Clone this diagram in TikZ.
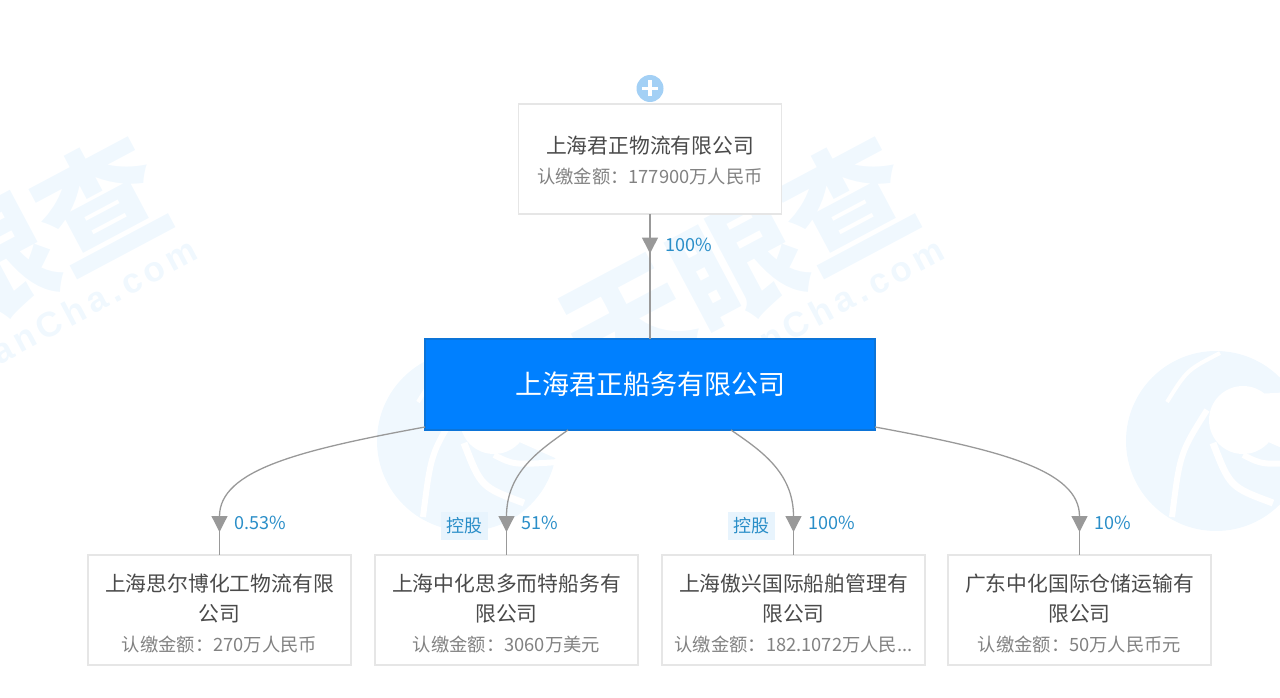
\documentclass[tikz,border=0pt]{standalone}
\usepackage{fontspec}
\usepackage{xcolor}
\usepackage{tikz}
\setmainfont{Noto Sans CJK SC}
\newfontfamily\markfont[LetterSpace=14]{Liberation Sans}
\usetikzlibrary{positioning,arrows.meta}
\tikzset{>={Triangle[width=16pt,length=16pt]}}
\definecolor{boxline}{HTML}{E6E6E6}
\definecolor{nameink}{HTML}{4A4A4A}
\definecolor{subink}{HTML}{828282}
\definecolor{rateink}{HTML}{2A8EC8}
\definecolor{linkgray}{HTML}{999999}
\definecolor{mainblue}{HTML}{0080FF}
\definecolor{mainline}{HTML}{0C74D8}
\definecolor{tagfill}{HTML}{E8F4FD}
\definecolor{plusblue}{HTML}{A3D0F5}
\definecolor{markblue}{HTML}{F0F8FE}
\newcommand{\subline}[1]{{\fontsize{18.3}{30}\selectfont\color{subink}认缴金额\char"FF1A\relax #1}}

\begin{document}
\begin{tikzpicture}[x=1pt,y=-1pt,
companynode/.style={rectangle, align=center, draw=boxline, line width=1.5pt, fill=white, text=nameink, outer sep=0pt, inner sep=0pt, minimum width=263pt, minimum height=110pt, font=\fontsize{20.8}{30}\selectfont},
mainnode/.style={rectangle, align=center, draw=mainline, line width=2pt, fill=mainblue, text=white, outer sep=0pt, minimum width=450pt, minimum height=91pt, font=\fontsize{27}{32}\selectfont},
ratelabel/.style={text=rateink, inner sep=0pt, font=\fontsize{18}{20}\selectfont},
taglabel/.style={text=rateink, fill=tagfill, inner sep=0pt, minimum width=47pt, minimum height=28pt, font=\fontsize{18}{20}\selectfont},
marktext/.style={text=markblue, inner sep=0pt, rotate=28},
link/.style={draw=linkgray, line width=1.3pt},
stem/.style={draw=linkgray, line width=1.6pt},
]
\useasboundingbox (0,0) rectangle (1280,698);

%Watermark
\foreach \dx in {0,747} {
  \node[marktext, font=\fontsize{125}{132}\selectfont\bfseries](Mark Name \dx) at (-10+\dx,263){天眼查};
  \node[marktext, font=\markfont\bfseries\fontsize{35}{38}\selectfont](Mark Site \dx) at (42+\dx,328){TianYanCha.com};
}
\foreach \cx in {467,1216} {
  \begin{scope}[shift={(\cx,441)}]
    \fill[markblue] (0,0) circle (90);
    \fill[white] (27,-21) circle (34);
    \fill[white] (40,-47) -- (95,-50) -- (95,20) -- (50,0) -- cycle;
    \draw[white, line width=6pt] (-9,-31) .. controls (-36,12) .. (-44,76);
    \draw[white, line width=4pt] (-49,-39) .. controls (-29,-71) .. (4,-88);
    \draw[white, line width=7pt] (-3,2) .. controls (14,46) .. (57,62);
    \draw[white, line width=6pt] (27,14) .. controls (47,24) .. (91,21);
  \end{scope}
}

%Nodes
\node[mainnode](Junzheng Shipping) at (650,384.5){上海君正船务有限公司};
\node[companynode](Junzheng Logistics)[above=125pt of Junzheng Shipping]{\rule{0pt}{21pt}上海君正物流有限公司\\\subline{177900万人民币}};
\node[companynode](Sierbo)[below=125pt of Junzheng Shipping, xshift=-430.5pt]{\rule{0pt}{25pt}上海思尔博化工物流有限\\公司\\\subline{270万人民币}};
\node[companynode](Sinochem Smart)[right=24pt of Sierbo]{\rule{0pt}{25pt}上海中化思多而特船务有\\限公司\\\subline{3060万美元}};
\node[companynode](Aoxing)[right=24pt of Sinochem Smart]{\rule{0pt}{25pt}上海傲兴国际船舶管理有\\限公司\\\subline{182.1072万人民...}};
\node[companynode](Guangdong Sinochem)[right=23pt of Aoxing]{\rule{0pt}{25pt}广东中化国际仓储运输有\\限公司\\\subline{50万人民币元}};

\node[circle, fill=plusblue, minimum size=27pt, inner sep=0pt](Expand) at (650,88.5){};
\draw[white, line width=3.5pt] ([xshift=-8pt]Expand.center) -- ([xshift=8pt]Expand.center);
\draw[white, line width=3.5pt] ([yshift=-8pt]Expand.center) -- ([yshift=8pt]Expand.center);

\coordinate (Top Tip) at ([yshift=-39.5pt]Junzheng Logistics.south);
\coordinate (Sierbo Tip) at ([yshift=23pt]Sierbo.north);
\coordinate (Smart Tip) at ([yshift=23pt]Sinochem Smart.north);
\coordinate (Aoxing Tip) at ([yshift=23pt]Aoxing.north);
\coordinate (Guangdong Tip) at ([yshift=23pt]Guangdong Sinochem.north);

%Lines
\draw[stem, ->] (Junzheng Logistics) -- (Top Tip);
\draw[stem] ([yshift=4pt]Top Tip) -- (Junzheng Shipping);
\draw[link, ->] ([yshift=3pt]Junzheng Shipping.south west) .. controls (300,450) and (219.5,470) .. (Sierbo Tip);
\draw[stem] ([yshift=4pt]Sierbo Tip) -- (Sierbo);
\draw[link, ->] ([xshift=143pt]Junzheng Shipping.south west) .. controls (540,450) and (506.5,472) .. (Smart Tip);
\draw[stem] ([yshift=4pt]Smart Tip) -- (Sinochem Smart);
\draw[link, ->] ([xshift=-144pt]Junzheng Shipping.south east) .. controls (760,450) and (793.5,472) .. (Aoxing Tip);
\draw[stem] ([yshift=4pt]Aoxing Tip) -- (Aoxing);
\draw[link, ->] ([yshift=3pt]Junzheng Shipping.south east) .. controls (1000,450) and (1079.5,470) .. (Guangdong Tip);
\draw[stem] ([yshift=4pt]Guangdong Tip) -- (Guangdong Sinochem);

%Labels
\node[ratelabel](Top Rate)[right=15pt of Top Tip, yshift=8.5pt]{100\%};
\node[ratelabel](Sierbo Rate)[right=15pt of Sierbo Tip, yshift=9pt]{0.53\%};
\node[ratelabel](Smart Rate)[right=15pt of Smart Tip, yshift=9pt]{51\%};
\node[ratelabel](Aoxing Rate)[right=15pt of Aoxing Tip, yshift=9pt]{100\%};
\node[ratelabel](Guangdong Rate)[right=15pt of Guangdong Tip, yshift=9pt]{10\%};
\node[taglabel](Smart Tag)[left=18pt of Smart Tip, yshift=6pt]{控股};
\node[taglabel](Aoxing Tag)[left=18pt of Aoxing Tip, yshift=6pt]{控股};
\end{tikzpicture}
\end{document}
